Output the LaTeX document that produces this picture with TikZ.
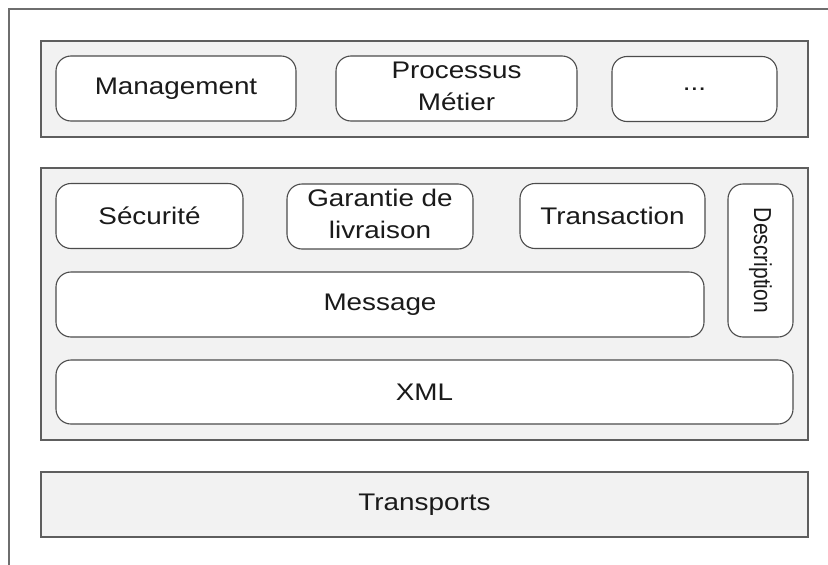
\documentclass[tikz,border=0pt]{standalone}
\usepackage{fontspec}
\setmainfont{Liberation Sans}
\usepackage{graphicx}
\usetikzlibrary{positioning}

\definecolor{layerfill}{HTML}{F2F2F2}
\definecolor{layerline}{HTML}{5E5E5E}
\definecolor{blockline}{HTML}{4C4C4C}
\definecolor{frameline}{HTML}{6E6E6E}
\definecolor{textcol}{HTML}{1A1A1A}

% text of the boxes is a bit wider than Arial
\newcommand{\wtxt}[1]{\scalebox{1.16}[1]{#1}}
\newcommand{\wtwo}[2]{\wtxt{\begin{tabular}{@{}c@{}}#1\\#2\end{tabular}}}

\begin{document}
\begin{tikzpicture}[x=1pt,y=-1pt,
    font=\fontsize{24}{32}\selectfont,text=textcol,
    layer/.style={draw=layerline,fill=layerfill,line width=1.4pt,
        inner sep=0pt,minimum width=767pt},
    block/.style={draw=blockline,fill=white,line width=1.1pt,
        rounded corners=15pt,inner sep=0pt,minimum height=65pt}]

\useasboundingbox (0,0) rectangle (828,565);

% outer frame
\draw[frameline,line width=1.4pt] (9,570) -- (9,9) -- (833,9);

% layers
\node[layer,minimum height=96pt]  (services) at (424.5,89)  {};
\node[layer,minimum height=272pt] (core)     at (424.5,304) {};
\node[layer,minimum height=65pt]  (transp)   at (424.5,504.5) {\wtxt{Transports}};

% top layer
\node[block,minimum width=240pt] (mgmt)  at (176,88.5)   {\wtxt{Management}};
\node[block,minimum width=241pt] (proc)  at (456.5,88.5) {\wtwo{Processus}{Métier}};
\node[block,minimum width=165pt] (other) at (694.5,89)   {\wtxt{...}};

% middle layer
\node[block,minimum width=187pt] (secu)  at (149.5,216)  {\wtxt{Sécurité}};
\node[block,minimum width=186pt] (garan) at (380,216.5)  {\wtwo{Garantie de}{livraison}};
\node[block,minimum width=185pt] (trans) at (612.5,216)  {\wtxt{Transaction}};
\node[block,minimum width=153pt,rotate=-90,
    font=\fontsize{21}{25}\selectfont] (descr) at (760.5,260.5)
    {\scalebox{1}[1.17]{Description}};
\node[block,minimum width=648pt] (msg)   at (380,304.5)  {\wtxt{Message}};
\node[block,minimum width=737pt,minimum height=64pt] (xml) at (424.5,392) {\wtxt{XML}};

\end{tikzpicture}
\end{document}
